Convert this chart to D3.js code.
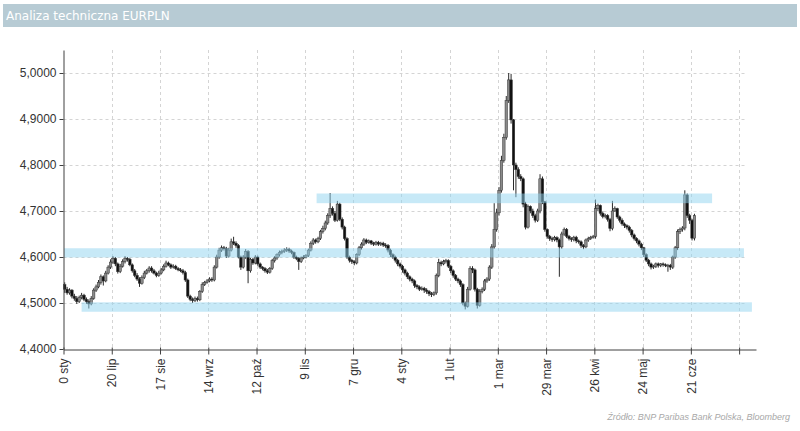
<!DOCTYPE html>
<html><head><meta charset="utf-8">
<script src="https://cdn.jsdelivr.net/npm/d3@7"></script>
<style>
body{margin:0;background:#fff;}
svg text{font-family:"Liberation Sans",Arial,sans-serif;}
</style>
</head><body>
<svg id="c" width="800" height="431"></svg>
<script>
// ---- data ----
const title = "Analiza techniczna EURPLN";
const source = "Źródło:  BNP Paribas Bank Polska, Bloomberg";
const yTicks = [4.4, 4.5, 4.6, 4.7, 4.8, 4.9, 5.0];
const xTickIdx = [0, 20, 40, 60, 80, 100, 120, 140, 160, 180, 200, 220, 240, 260, 280];
const xTickLabels = ["0 sty", "20 lip", "17 sie", "14 wrz", "12 paź", "9 lis", "7 gru", "4 sty", "1 lut", "1 mar", "29 mar", "26 kwi", "24 maj", "21 cze", ""];
const categoryCount = 287;

const open = [
4.540,4.530,4.522,4.528,4.515,4.510,4.503,4.512,4.517,4.508,
4.503,4.498,4.510,4.528,4.535,4.545,4.557,4.548,4.565,4.578,
4.589,4.597,4.585,4.568,4.580,4.590,4.597,4.595,4.583,4.570,
4.560,4.552,4.543,4.555,4.565,4.570,4.576,4.570,4.565,4.560,
4.565,4.572,4.580,4.587,4.583,4.578,4.580,4.575,4.572,4.570,
4.566,4.550,4.515,4.508,4.505,4.510,4.507,4.525,4.540,4.545,
4.548,4.552,4.550,4.578,4.600,4.615,4.620,4.618,4.602,4.615,
4.633,4.630,4.625,4.600,4.578,4.600,4.612,4.570,4.595,4.587,
4.600,4.585,4.578,4.575,4.570,4.567,4.575,4.592,4.598,4.605,
4.610,4.612,4.615,4.617,4.613,4.610,4.600,4.597,4.590,4.598,
4.600,4.603,4.615,4.630,4.637,4.633,4.640,4.655,4.662,4.674,
4.690,4.705,4.695,4.680,4.715,4.682,4.665,4.640,4.600,4.593,
4.590,4.587,4.605,4.620,4.628,4.637,4.632,4.635,4.630,4.628,
4.632,4.628,4.630,4.626,4.625,4.615,4.605,4.600,4.593,4.585,
4.580,4.572,4.565,4.557,4.552,4.548,4.538,4.535,4.530,4.532,
4.528,4.525,4.520,4.518,4.522,4.560,4.588,4.585,4.590,4.592,
4.580,4.570,4.560,4.552,4.548,4.540,4.500,4.493,4.530,4.575,
4.572,4.530,4.495,4.525,4.530,4.548,4.552,4.578,4.622,4.660,
4.696,4.745,4.810,4.860,4.940,4.985,4.898,4.800,4.790,4.775,
4.770,4.715,4.665,4.710,4.700,4.690,4.680,4.700,4.770,4.720,
4.660,4.645,4.640,4.638,4.642,4.637,4.622,4.650,4.660,4.645,
4.640,4.638,4.643,4.635,4.633,4.625,4.622,4.637,4.640,4.643,
4.645,4.705,4.712,4.695,4.688,4.690,4.682,4.662,4.700,4.705,
4.687,4.680,4.672,4.668,4.665,4.658,4.648,4.640,4.635,4.628,
4.620,4.605,4.593,4.585,4.578,4.580,4.585,4.582,4.585,4.583,
4.582,4.582,4.578,4.600,4.620,4.655,4.660,4.663,4.735,4.690,
4.680,4.641];

const high = [
4.545,4.535,4.532,4.530,4.520,4.515,4.516,4.522,4.520,4.512,
4.508,4.515,4.532,4.540,4.550,4.562,4.560,4.570,4.582,4.595,
4.602,4.600,4.588,4.585,4.595,4.602,4.600,4.598,4.586,4.574,
4.565,4.556,4.560,4.570,4.574,4.580,4.580,4.574,4.568,4.570,
4.576,4.584,4.592,4.590,4.586,4.584,4.583,4.578,4.576,4.574,
4.570,4.553,4.518,4.512,4.514,4.514,4.528,4.545,4.548,4.552,
4.556,4.556,4.582,4.605,4.620,4.625,4.624,4.622,4.620,4.640,
4.644,4.634,4.628,4.603,4.604,4.617,4.615,4.598,4.598,4.604,
4.603,4.588,4.580,4.578,4.574,4.578,4.596,4.602,4.608,4.614,
4.616,4.619,4.621,4.620,4.616,4.612,4.603,4.600,4.601,4.604,
4.606,4.618,4.634,4.641,4.640,4.644,4.659,4.668,4.679,4.695,
4.739,4.710,4.700,4.722,4.718,4.686,4.668,4.643,4.603,4.596,
4.593,4.608,4.624,4.632,4.641,4.640,4.638,4.637,4.633,4.635,
4.635,4.633,4.633,4.630,4.628,4.618,4.608,4.603,4.596,4.588,
4.583,4.575,4.568,4.560,4.555,4.551,4.541,4.538,4.536,4.535,
4.532,4.528,4.524,4.525,4.564,4.596,4.592,4.594,4.596,4.595,
4.583,4.573,4.563,4.555,4.551,4.543,4.503,4.535,4.580,4.580,
4.575,4.533,4.530,4.534,4.552,4.556,4.582,4.628,4.717,4.705,
4.752,4.820,4.868,4.950,5.000,4.998,4.900,4.805,4.795,4.780,
4.773,4.720,4.714,4.712,4.705,4.694,4.705,4.780,4.775,4.722,
4.662,4.648,4.644,4.646,4.645,4.640,4.655,4.664,4.663,4.648,
4.643,4.646,4.646,4.638,4.636,4.628,4.640,4.644,4.646,4.648,
4.725,4.716,4.714,4.699,4.694,4.693,4.685,4.722,4.710,4.707,
4.690,4.684,4.675,4.671,4.668,4.661,4.651,4.643,4.638,4.631,
4.622,4.608,4.596,4.588,4.583,4.588,4.588,4.587,4.588,4.586,
4.585,4.585,4.603,4.624,4.660,4.664,4.667,4.745,4.738,4.694,
4.683,4.694];

const low = [
4.522,4.518,4.518,4.510,4.505,4.498,4.500,4.508,4.504,4.498,
4.488,4.495,4.507,4.524,4.532,4.540,4.538,4.545,4.562,4.574,
4.585,4.580,4.564,4.565,4.577,4.586,4.590,4.580,4.566,4.556,
4.548,4.535,4.540,4.552,4.562,4.566,4.566,4.562,4.556,4.557,
4.562,4.569,4.577,4.580,4.574,4.575,4.572,4.569,4.567,4.562,
4.546,4.511,4.504,4.500,4.502,4.503,4.504,4.522,4.537,4.542,
4.545,4.546,4.547,4.575,4.596,4.611,4.614,4.598,4.599,4.612,
4.626,4.620,4.597,4.572,4.575,4.596,4.543,4.566,4.583,4.584,
4.581,4.574,4.571,4.566,4.563,4.564,4.572,4.588,4.594,4.601,
4.606,4.609,4.611,4.609,4.606,4.596,4.593,4.572,4.587,4.595,
4.597,4.600,4.612,4.626,4.629,4.630,4.637,4.651,4.658,4.670,
4.685,4.690,4.676,4.677,4.678,4.660,4.636,4.596,4.588,4.585,
4.582,4.584,4.602,4.616,4.624,4.628,4.629,4.626,4.624,4.625,
4.624,4.624,4.622,4.620,4.610,4.600,4.596,4.588,4.580,4.575,
4.566,4.560,4.552,4.547,4.543,4.533,4.530,4.526,4.527,4.522,
4.520,4.515,4.513,4.515,4.518,4.556,4.580,4.582,4.586,4.576,
4.565,4.555,4.548,4.543,4.535,4.495,4.486,4.490,4.527,4.565,
4.525,4.488,4.492,4.521,4.526,4.544,4.548,4.574,4.618,4.655,
4.690,4.740,4.805,4.855,4.935,4.890,4.745,4.730,4.770,4.765,
4.708,4.660,4.662,4.695,4.685,4.675,4.676,4.695,4.715,4.655,
4.640,4.635,4.633,4.634,4.632,4.557,4.618,4.646,4.641,4.636,
4.633,4.634,4.630,4.629,4.620,4.617,4.619,4.633,4.637,4.640,
4.640,4.700,4.690,4.684,4.684,4.677,4.656,4.658,4.698,4.683,
4.675,4.668,4.663,4.660,4.653,4.643,4.636,4.630,4.623,4.615,
4.600,4.589,4.580,4.573,4.574,4.576,4.577,4.578,4.579,4.578,
4.568,4.572,4.574,4.596,4.615,4.650,4.655,4.658,4.685,4.672,
4.636,4.636];

const close = [
4.530,4.522,4.528,4.515,4.510,4.503,4.512,4.517,4.508,4.503,
4.498,4.510,4.528,4.535,4.545,4.557,4.548,4.565,4.578,4.589,
4.597,4.585,4.568,4.580,4.590,4.597,4.595,4.583,4.570,4.560,
4.552,4.543,4.555,4.565,4.570,4.576,4.570,4.565,4.560,4.565,
4.572,4.580,4.587,4.583,4.578,4.580,4.575,4.572,4.570,4.566,
4.550,4.515,4.508,4.505,4.510,4.507,4.525,4.540,4.545,4.548,
4.552,4.550,4.578,4.600,4.615,4.620,4.618,4.602,4.615,4.633,
4.630,4.625,4.600,4.578,4.600,4.612,4.570,4.595,4.587,4.600,
4.585,4.578,4.575,4.570,4.567,4.575,4.592,4.598,4.605,4.610,
4.612,4.615,4.617,4.613,4.610,4.600,4.597,4.590,4.598,4.600,
4.603,4.615,4.630,4.637,4.633,4.640,4.655,4.662,4.674,4.690,
4.705,4.695,4.680,4.715,4.682,4.665,4.640,4.600,4.593,4.590,
4.587,4.605,4.620,4.628,4.637,4.632,4.635,4.630,4.628,4.632,
4.628,4.630,4.626,4.625,4.615,4.605,4.600,4.593,4.585,4.580,
4.572,4.565,4.557,4.552,4.548,4.538,4.535,4.530,4.532,4.528,
4.525,4.520,4.518,4.522,4.560,4.588,4.585,4.590,4.592,4.580,
4.570,4.560,4.552,4.548,4.540,4.500,4.493,4.530,4.575,4.572,
4.530,4.495,4.525,4.530,4.548,4.552,4.578,4.622,4.660,4.696,
4.745,4.810,4.860,4.940,4.985,4.898,4.800,4.790,4.775,4.770,
4.715,4.665,4.710,4.700,4.690,4.680,4.700,4.770,4.720,4.660,
4.645,4.640,4.638,4.642,4.637,4.622,4.650,4.660,4.645,4.640,
4.638,4.643,4.635,4.633,4.625,4.622,4.637,4.640,4.643,4.645,
4.705,4.712,4.695,4.688,4.690,4.682,4.662,4.700,4.705,4.687,
4.680,4.672,4.668,4.665,4.658,4.648,4.640,4.635,4.628,4.620,
4.605,4.593,4.585,4.578,4.580,4.585,4.582,4.585,4.583,4.582,
4.582,4.578,4.600,4.620,4.655,4.660,4.663,4.735,4.690,4.680,
4.641,4.690];

// support / resistance zones (category index from-to, value range)
const zoneFrom = [104.9, 0.2, 7.5];
const zoneTo = [268.8, 282.0, 285.3];
const zoneLow = [4.717, 4.599, 4.481];
const zoneHigh = [4.738, 4.619, 4.5015];

// ---- chart ----
const svg = d3.select("#c");
const x = d3.scaleLinear().domain([0, categoryCount]).range([63.5, 756]);
const y = d3.scaleLinear().domain([4.4, 5.05]).range([349, 50]);

// title bar
svg.append("rect").attr("x", 3).attr("y", 4).attr("width", 794).attr("height", 23).attr("fill", "#b7cbd4");
svg.append("text").attr("x", 6).attr("y", 20).attr("fill", "#fff").attr("font-size", 12)
  .style("font-family", "'DejaVu Sans', sans-serif").text(title);

// grid
const grid = svg.append("g").attr("stroke", "#d4d4d4").attr("stroke-dasharray", "3,3").attr("stroke-width", 1);
grid.selectAll("line.h").data(yTicks.filter(v => v > 4.4)).join("line")
  .attr("x1", x(0)).attr("x2", 745).attr("y1", d => Math.round(y(d)) + 0.5).attr("y2", d => Math.round(y(d)) + 0.5);
grid.selectAll("line.v").data(xTickIdx.filter(v => v > 0)).join("line")
  .attr("x1", d => Math.round(x(d)) + 0.5).attr("x2", d => Math.round(x(d)) + 0.5).attr("y1", 50).attr("y2", 349);

// candles
const idx = d3.range(close.length);
const cg = svg.append("g");
cg.selectAll("line").data(idx).join("line")
  .attr("x1", i => x(i + 0.5)).attr("x2", i => x(i + 0.5))
  .attr("y1", i => y(high[i])).attr("y2", i => y(low[i]))
  .attr("stroke", "#2a2a2a").attr("stroke-width", 1);
cg.selectAll("rect").data(idx).join("rect")
  .attr("x", i => x(i + 0.5) - 1.25).attr("width", 2.5)
  .attr("y", i => y(Math.max(open[i], close[i])))
  .attr("height", i => Math.max(0.9, Math.abs(y(open[i]) - y(close[i]))))
  .attr("fill", i => close[i] >= open[i] ? "#8a8a8a" : "#111")
  .attr("stroke", "#333").attr("stroke-width", 0.5);

// zones (drawn over candles, semi-transparent)
svg.append("g").selectAll("rect").data(zoneFrom).join("rect")
  .attr("x", (d, i) => x(zoneFrom[i])).attr("width", (d, i) => x(zoneTo[i]) - x(zoneFrom[i]))
  .attr("y", (d, i) => y(zoneHigh[i])).attr("height", (d, i) => y(zoneLow[i]) - y(zoneHigh[i]))
  .attr("fill", "#8fd3ef").attr("opacity", 0.5);

// axes
const yAxis = svg.append("g").attr("transform", "translate(63.5,0)")
  .call(d3.axisLeft(y).tickValues(yTicks).tickSizeInner(4).tickSizeOuter(0)
    .tickFormat(d => d.toFixed(4).replace(".", ",")));
const xAxis = svg.append("g").attr("transform", "translate(0,349.5)")
  .call(d3.axisBottom(x).tickValues(xTickIdx).tickSizeInner(5).tickSizeOuter(0)
    .tickFormat((d, i) => xTickLabels[i]));
[yAxis, xAxis].forEach(a => {
  a.select(".domain").attr("stroke", "#404040");
  a.selectAll(".tick line").attr("stroke", "#404040");
  a.selectAll("text").attr("fill", "#333").attr("font-size", 12).attr("font-family", "Liberation Sans, Arial, sans-serif");
});
xAxis.selectAll(".tick line").attr("y1", -2);
xAxis.selectAll("text").attr("transform", "rotate(-90)").attr("text-anchor", "end")
  .attr("x", -9).attr("y", 0).attr("dy", "0.35em");

// source
svg.append("text").attr("x", 790).attr("y", 420).attr("text-anchor", "end")
  .attr("font-size", 9).attr("font-style", "italic").attr("fill", "#a8a8a8").text(source);
</script>
</body></html>
